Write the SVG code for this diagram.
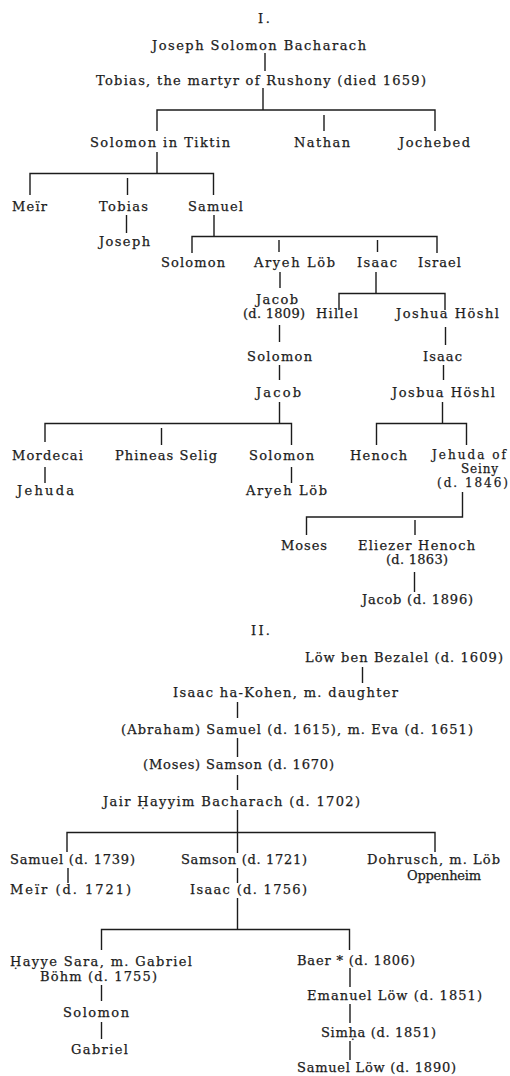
<svg xmlns="http://www.w3.org/2000/svg" width="510" height="1076" viewBox="0 0 510 1076">
<style>
text{font-family:"DejaVu Serif","Liberation Serif",serif;font-size:13px;fill:#1c1c1c;stroke:#1c1c1c;stroke-width:0.25}
.sm{font-size:12px}
.c path{stroke:#1c1c1c;stroke-width:1.4;fill:none}
</style>
<rect width="510" height="1076" fill="#fff"/>
<g id="connectors" class="c">
<path d="M265 53V71"/>
<path d="M263 88V110 M157 131V110H435V131 M324 115V131"/>
<path d="M157 152V173.5 M30 195V173.5H213.5V195 M127.5 178V195"/>
<path d="M126.5 215V233"/>
<path d="M214 215V236.5 M192 253V236.5H437V253 M279 240V252 M377.5 240V252"/>
<path d="M280 272V288"/>
<path d="M376 272V293.5 M339 310V293.5H445V310"/>
<path d="M279.5 325V342"/>
<path d="M445.5 327V345"/>
<path d="M279.5 365V380"/>
<path d="M443.5 365V380"/>
<path d="M279.5 402V423.5 M45 442V423.5H291.5V445 M161.5 428V445"/>
<path d="M442.5 402V423.5 M376.5 445V423.5H466.5V445"/>
<path d="M45 467V483"/>
<path d="M291.5 467V483"/>
<path d="M462.5 492V517H306.5V535 M415 520V535"/>
<path d="M414.5 572V592"/>
<path d="M362.5 667V683"/>
<path d="M237.5 702V718"/>
<path d="M237.5 738V757"/>
<path d="M237.5 775V790"/>
<path d="M237.5 810V853 M67 852V832.5H435V852"/>
<path d="M68 868V883"/>
<path d="M237.5 868V883"/>
<path d="M237.5 898V929.5 M101.5 950V929.5H349.5V950"/>
<path d="M350 968V987"/>
<path d="M101.5 985V1001"/>
<path d="M101.5 1022V1039"/>
<path d="M350 1004V1023"/>
<path d="M350 1041V1060"/>
</g>
<g id="title1"><text x="258" y="23" textLength="12">I.</text></g>
<g id="n-joseph-solomon"><text x="152" y="49.5" textLength="214">Joseph Solomon Bacharach</text></g>
<g id="n-tobias"><text x="96" y="85" textLength="330">Tobias, the martyr of Rushony (died 1659)</text></g>
<g id="n-solomon-tiktin"><text x="90" y="147" textLength="140">Solomon in Tiktin</text></g>
<g id="n-nathan"><text x="294" y="147" textLength="56">Nathan</text></g>
<g id="n-jochebed"><text x="399" y="147" textLength="71">Jochebed</text></g>
<g id="n-meir1"><text x="12" y="210.5" textLength="35">Meïr</text></g>
<g id="n-tobias2"><text x="99" y="210.5" textLength="49">Tobias</text></g>
<g id="n-samuel1"><text x="188" y="210.5" textLength="55">Samuel</text></g>
<g id="n-joseph2"><text x="99" y="245.5" textLength="51">Joseph</text></g>
<g id="n-solomon2"><text x="161" y="267" textLength="64">Solomon</text></g>
<g id="n-aryeh1"><text x="254" y="267" textLength="81">Aryeh Löb</text></g>
<g id="n-isaac1"><text x="357" y="267" textLength="40">Isaac</text></g>
<g id="n-israel"><text x="418" y="267" textLength="43">Israel</text></g>
<g id="n-jacob1809"><text x="256" y="303.5" textLength="42">Jacob</text><text x="243" y="318" textLength="62">(d. 1809)</text></g>
<g id="n-hillel"><text x="316" y="318" textLength="42">Hillel</text></g>
<g id="n-joshua1"><text x="396" y="318" textLength="103">Joshua Höshl</text></g>
<g id="n-solomon3"><text x="247" y="361" textLength="65">Solomon</text></g>
<g id="n-isaac2"><text x="423" y="361" textLength="39">Isaac</text></g>
<g id="n-jacob2"><text x="256" y="396.5" textLength="45">Jacob</text></g>
<g id="n-josbua"><text x="392" y="396.5" textLength="103">Josbua Höshl</text></g>
<g id="n-mordecai"><text x="12" y="459.5" textLength="71">Mordecai</text></g>
<g id="n-phineas"><text x="115" y="459.5" textLength="102">Phineas Selig</text></g>
<g id="n-solomon4"><text x="249" y="459.5" textLength="65">Solomon</text></g>
<g id="n-henoch"><text x="350" y="459.5" textLength="57">Henoch</text></g>
<g id="n-jehuda-seiny"><text class="sm" x="432" y="458.5" textLength="74">Jehuda of</text><text class="sm" x="461" y="472.5" textLength="37">Seiny</text><text class="sm" x="437" y="486.5" textLength="71">(d. 1846)</text></g>
<g id="n-jehuda"><text x="17" y="495" textLength="57">Jehuda</text></g>
<g id="n-aryeh2"><text x="246" y="495" textLength="81">Aryeh Löb</text></g>
<g id="n-moses"><text x="281" y="550" textLength="46">Moses</text></g>
<g id="n-eliezer"><text x="358" y="550" textLength="117">Eliezer Henoch</text><text x="386" y="564" textLength="62">(d. 1863)</text></g>
<g id="n-jacob1896"><text x="362" y="603.5" textLength="111">Jacob (d. 1896)</text></g>
<g id="title2"><text x="251" y="635" textLength="19">II.</text></g>
<g id="n-low"><text x="305" y="661.5" textLength="198">Löw ben Bezalel (d. 1609)</text></g>
<g id="n-isaac-kohen"><text x="173" y="696.5" textLength="225">Isaac ha-Kohen, m. daughter</text></g>
<g id="n-abraham"><text x="121" y="733.5" textLength="352">(Abraham) Samuel (d. 1615), m. Eva (d. 1651)</text></g>
<g id="n-moses-samson"><text x="143" y="768.5" textLength="191">(Moses) Samson (d. 1670)</text></g>
<g id="n-jair"><text x="103" y="806" textLength="257">Jair Ḥayyim Bacharach (d. 1702)</text></g>
<g id="n-samuel1739"><text x="10" y="864" textLength="125">Samuel (d. 1739)</text></g>
<g id="n-samson1721"><text x="181" y="864" textLength="126">Samson (d. 1721)</text></g>
<g id="n-dohrusch"><text x="367" y="864" textLength="133">Dohrusch, m. Löb</text><text x="407" y="880" textLength="74">Oppenheim</text></g>
<g id="n-meir1721"><text x="10" y="894" textLength="121">Meïr (d. 1721)</text></g>
<g id="n-isaac1756"><text x="190" y="894" textLength="117">Isaac (d. 1756)</text></g>
<g id="n-hayye"><text x="10" y="966" textLength="182">Ḥayye Sara, m. Gabriel</text><text x="40" y="980.5" textLength="117">Böhm (d. 1755)</text></g>
<g id="n-baer"><text x="297" y="965" textLength="118">Baer * (d. 1806)</text></g>
<g id="n-emanuel"><text x="307" y="1000" textLength="175">Emanuel Löw (d. 1851)</text></g>
<g id="n-solomon5"><text x="63" y="1017" textLength="66">Solomon</text></g>
<g id="n-simha"><text x="321" y="1037" textLength="115">Simḥa (d. 1851)</text></g>
<g id="n-gabriel"><text x="71" y="1054" textLength="57">Gabriel</text></g>
<g id="n-samuel-low"><text x="297" y="1072" textLength="159">Samuel Löw (d. 1890)</text></g>
</svg>
